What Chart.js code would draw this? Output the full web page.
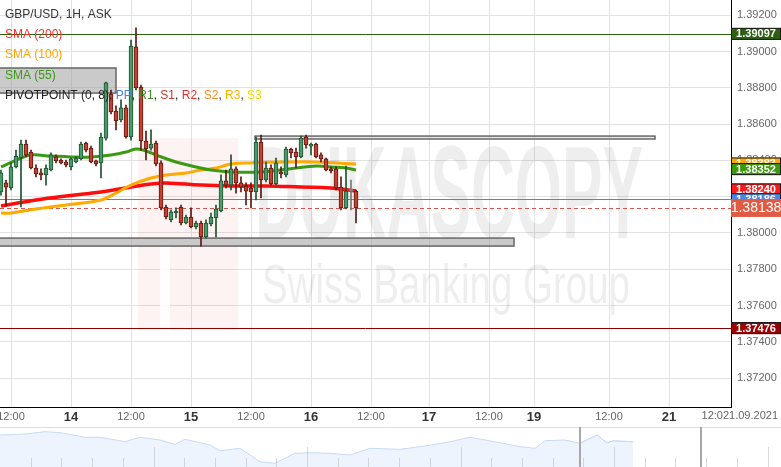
<!DOCTYPE html>
<html>
<head>
<meta charset="utf-8">
<script src="https://cdn.jsdelivr.net/npm/chart.js@4.4.0/dist/chart.umd.min.js"></script>
<style>
body{margin:0;background:#fff;}
#wrap{position:relative;width:781px;height:467px;overflow:hidden;background:#fff;}
#main{position:absolute;left:0;top:0;}
#nav{position:absolute;left:0;top:427px;}
</style>
</head>
<body>
<div id="wrap">
<canvas id="main" width="781" height="427"></canvas>
<canvas id="nav" width="781" height="40"></canvas>
</div>
<script>
// GBP/USD 1H candles, one per hour slot
var opens = [1.38226,1.38276,1.38248,1.38364,1.38413,1.38490,1.38446,1.38358,1.38331,1.38320,
  1.38347,1.38419,1.38402,1.38391,1.38364,1.38391,1.38408,1.38496,1.38468,1.38397,
  1.38386,1.38523,1.38766,1.38672,1.38623,1.38689,1.38529,1.39025,1.38804,1.38507,
  1.38468,1.38496,1.38386,1.38143,1.38072,1.38110,1.38143,1.38055,1.38088,1.38033,
  1.38055,1.37978,1.38050,1.38083,1.38121,1.38287,1.38264,1.38353,1.38276,1.38259,
  1.38248,1.38226,1.38501,1.38292,1.38358,1.38270,1.38336,1.38320,1.38463,1.38446,
  1.38419,1.38529,1.38479,1.38490,1.38430,1.38408,1.38353,1.38353,1.38253,1.38138,
  1.38231,1.38231];
var highs = [1.38347,1.38292,1.38386,1.38457,1.38512,1.38512,1.38457,1.38375,1.38353,1.38375,
  1.38441,1.38430,1.38408,1.38402,1.38413,1.38419,1.38501,1.38501,1.38479,1.38402,
  1.38551,1.38832,1.38788,1.38700,1.38733,1.38705,1.39063,1.39130,1.38815,1.38562,
  1.38568,1.38507,1.38397,1.38154,1.38127,1.38138,1.38154,1.38099,1.38138,1.38066,
  1.38066,1.38072,1.38110,1.38154,1.38320,1.38347,1.38430,1.38364,1.38309,1.38276,
  1.38276,1.38529,1.38540,1.38391,1.38375,1.38413,1.38364,1.38474,1.38468,1.38468,
  1.38534,1.38540,1.38496,1.38496,1.38441,1.38413,1.38364,1.38364,1.38309,1.38369,
  1.38292,1.38237];
var lows = [1.38209,1.38149,1.38237,1.38358,1.38143,1.38419,1.38353,1.38309,1.38292,1.38264,
  1.38342,1.38386,1.38380,1.38364,1.38347,1.38386,1.38402,1.38446,1.38386,1.38369,
  1.38303,1.38512,1.38656,1.38568,1.38612,1.38523,1.38512,1.38788,1.38457,1.38402,
  1.38457,1.38369,1.38127,1.38077,1.38061,1.38083,1.38044,1.38050,1.38028,1.38022,
  1.37928,1.37972,1.38039,1.37978,1.38116,1.38248,1.38237,1.38220,1.38226,1.38154,
  1.38138,1.38182,1.38193,1.38281,1.38264,1.38264,1.38303,1.38309,1.38413,1.38358,
  1.38413,1.38468,1.38430,1.38413,1.38391,1.38342,1.38331,1.38237,1.38127,1.38132,
  1.38127,1.38055];
var closes = [1.38331,1.38253,1.38364,1.38424,1.38490,1.38430,1.38358,1.38325,1.38320,1.38358,
  1.38430,1.38397,1.38386,1.38375,1.38408,1.38413,1.38490,1.38457,1.38391,1.38380,
  1.38529,1.38827,1.38667,1.38617,1.38689,1.38529,1.39030,1.38799,1.38507,1.38463,
  1.38490,1.38380,1.38138,1.38088,1.38116,1.38116,1.38055,1.38088,1.38033,1.38055,
  1.37978,1.38055,1.38088,1.38132,1.38287,1.38264,1.38353,1.38276,1.38253,1.38231,
  1.38226,1.38501,1.38292,1.38358,1.38270,1.38386,1.38325,1.38463,1.38441,1.38419,
  1.38523,1.38485,1.38490,1.38419,1.38408,1.38347,1.38342,1.38248,1.38138,1.38231,
  1.38231,1.38138];

// moving averages, read at a few slots
var sma55Slots = [0,4,6,10,14,18,22,25,27,29,31,35,39,42,46,52,56,59,63,66,69,71];
var sma55Vals  = [1.38364,1.38413,1.38430,1.38424,1.38419,1.38419,1.38430,1.38446,1.38463,1.38452,1.38430,1.38391,1.38364,1.38347,1.38336,1.38336,1.38347,1.38358,1.38369,1.38364,1.38358,1.38347];
var sma100Slots = [0,2,7,13,20,23,26,30,33,37,40,43,46,50,56,63,71];
var sma100Vals  = [1.38110,1.38110,1.38132,1.38154,1.38182,1.38220,1.38264,1.38303,1.38320,1.38331,1.38347,1.38358,1.38380,1.38386,1.38391,1.38391,1.38380];
var sma200Slots = [0,7,13,20,26,30,33,40,46,53,60,66,71];
var sma200Vals  = [1.38149,1.38182,1.38204,1.38226,1.38253,1.38270,1.38276,1.38264,1.38259,1.38259,1.38253,1.38248,1.38231];

// axes
var xTickSlots = [2,14,26,38,50,62,74,85.6,97.6,106.6,121.6,133.6];
var xTickLabels = ['12:00','14','12:00','15','12:00','16','12:00','17','12:00','19','12:00','21'];
var yTicks = [1.372,1.374,1.376,1.378,1.380,1.382,1.384,1.386,1.388,1.390,1.392];
var yMin = 1.370413, yMax = 1.392837;

// horizontal levels: R, S, PP, current ask
var levelValues = [1.39097,1.37476,1.38186,1.38138];
// drawn rectangles (slot from, slot to, price top, price bottom)
var rectFrom = [-1,50.8,-1];
var rectTo = [23,130.8,102.6];
var rectTop = [1.38909,1.38534,1.37972];
var rectBottom = [1.38771,1.38518,1.37928];

// price tags on the axis
var tagValues = [1.38383,1.38352,1.38240,1.38186,1.39097,1.37476,1.38138];

// navigator overview
var navX = [0,25,45,60,85,100,125,140,160,175,185,210,220,240,260,275,295,310,330,350,370,400,425,450,470,500,520,535,545,565,580,597,607,613,633];
var navH = [32,33,35.3,34.3,29.7,29.7,25.3,29.7,27,22.7,27.7,22,16.3,18.7,5.3,3.7,13.7,14.3,13.7,12,18.7,17.7,21,25.3,29.7,24.3,20.3,18.7,26.3,27,23.7,32,24,26,25.3];

var levelColors = ['#2c5f0e','#8b0000','#4a86e8','#d9534f'];
var tagBg = ['#ffa500','#3a9a0a','#ff1a1a','#4a86e8','#2c5f0e','#9b0000','#e05a44'];

Chart.defaults.font.family = '"Liberation Sans", Arial, sans-serif';

function kind(i){
  if (closes[i] > opens[i]) return 'up';
  if (closes[i] < opens[i]) return 'down';
  return 'flat';
}
var fillC = {up:'#4b9a6c', down:'#c8402f', flat:'#909090'};
var lineC = {up:'#1d5230', down:'#5e1810', flat:'#777777'};

var idx = opens.map(function(_, i){ return i; });

var overlay = {
  id: 'overlay',
  beforeDatasetsDraw: function(chart){
    var ctx = chart.ctx, a = chart.chartArea, x = chart.scales.x, y = chart.scales.y;
    ctx.save();
    ctx.beginPath(); ctx.rect(a.left, a.top, a.width, a.height); ctx.clip();

    // watermark
    ctx.fillStyle = 'rgba(235,90,90,0.07)';
    ctx.fillRect(138, 138, 100, 192);
    ctx.fillStyle = 'rgba(255,255,255,0.85)';
    ctx.fillRect(160, 240, 10, 90);
    ctx.fillRect(138, 238, 100, 8);
    ctx.fillStyle = 'rgba(0,0,0,0.065)';
    ctx.font = 'bold 132px "Liberation Sans"';
    var w = ctx.measureText('DUKASCOPY').width;
    ctx.save(); ctx.translate(255, 238); ctx.scale(388 / w, 1);
    ctx.fillText('DUKASCOPY', 0, 0); ctx.restore();
    ctx.font = '56px "Liberation Sans"';
    w = ctx.measureText('Swiss Banking Group').width;
    ctx.save(); ctx.translate(262, 303); ctx.scale(368 / w, 1);
    ctx.fillText('Swiss Banking Group', 0, 0); ctx.restore();

    // rectangles
    for (var r = 0; r < rectFrom.length; r++) {
      var x0 = x.getPixelForValue(rectFrom[r]), x1 = x.getPixelForValue(rectTo[r]);
      var y0 = y.getPixelForValue(rectTop[r]), y1 = y.getPixelForValue(rectBottom[r]);
      ctx.fillStyle = r == 1 ? 'rgba(200,200,200,0.35)' : 'rgba(150,150,150,0.5)';
      ctx.fillRect(x0, y0, x1 - x0, y1 - y0);
      ctx.strokeStyle = '#666'; ctx.lineWidth = 1.5;
      ctx.strokeRect(x0, y0, x1 - x0, y1 - y0);
    }

    // level lines
    for (var l = 0; l < levelValues.length; l++) {
      var ly = Math.round(y.getPixelForValue(levelValues[l])) + 0.5;
      ctx.strokeStyle = levelColors[l]; ctx.lineWidth = 1;
      ctx.setLineDash(l == 3 ? [4, 3] : []);
      ctx.beginPath(); ctx.moveTo(a.left, ly); ctx.lineTo(a.right, ly); ctx.stroke();
    }
    ctx.restore();
  },
  afterDraw: function(chart){
    var ctx = chart.ctx, a = chart.chartArea, y = chart.scales.y;
    ctx.save();
    // legend text
    ctx.textBaseline = 'middle';
    ctx.font = '12px "Liberation Sans"';
    var rows = [['GBP/USD, 1H, ASK','#333'],['SMA (200)','#ff2a2a'],['SMA (100)','#ffa500'],['SMA (55)','#3c9a1a']];
    var ry = [15, 35, 55, 76];
    rows.forEach(function(t, i){ ctx.fillStyle = t[1]; ctx.fillText(t[0], 5, ry[i]); });
    var parts = [['PIVOTPOINT (0, 8)','#222'],[', ','#222'],['PP','#4a86e8'],[', ','#222'],['R1','#3a8a2a'],[', ','#222'],
      ['S1','#c0392b'],[', ','#222'],['R2','#e53030'],[', ','#222'],['S2','#ff8c1a'],[', ','#222'],['R3','#ffb400'],[', ','#222'],['S3','#eedd00']];
    var px = 5;
    parts.forEach(function(p){ ctx.fillStyle = p[1]; ctx.fillText(p[0], px, 96); px += ctx.measureText(p[0]).width; });

    // price tags
    ctx.textAlign = 'center';
    for (var t = 0; t < tagValues.length; t++) {
      var cy = y.getPixelForValue(tagValues[t]);
      var big = t == tagValues.length - 1;
      var h = big ? 18 : 12;
      ctx.fillStyle = tagBg[t];
      ctx.fillRect(a.right, cy - h / 2, 50, h);
      if (!big) { ctx.strokeStyle = '#1a1a1a'; ctx.lineWidth = 1; ctx.strokeRect(a.right + 0.5, cy - h / 2 + 0.5, 49, h - 1); }
      ctx.fillStyle = '#fff';
      ctx.font = big ? '14px "Liberation Sans"' : 'bold 11px "Liberation Sans"';
      ctx.fillText(tagValues[t].toFixed(5), a.right + 25, cy + 0.5);
    }

    // last date label
    ctx.textAlign = 'right';
    ctx.font = '11px "Liberation Sans"';
    ctx.fillStyle = '#666';
    ctx.fillText('12:021.09.2021', 778, 416);
    ctx.restore();
  }
};

function isDay(i){ return xTickLabels[i] && xTickLabels[i].indexOf(':') < 0; }

var mainChart = new Chart(document.getElementById('main'), {
  type: 'bar',
  data: {
    datasets: [
      {
        type: 'line', data: sma200Slots.map(function(s, i){ return {x: s, y: sma200Vals[i]}; }),
        borderColor: '#ff0d0d', borderWidth: 3.5, pointRadius: 0, tension: 0.4, order: 8
      },
      {
        type: 'line', data: sma100Slots.map(function(s, i){ return {x: s, y: sma100Vals[i]}; }),
        borderColor: '#ffaa00', borderWidth: 3, pointRadius: 0, tension: 0.4, order: 7
      },
      {
        type: 'line', data: sma55Slots.map(function(s, i){ return {x: s, y: sma55Vals[i]}; }),
        borderColor: '#3a9a12', borderWidth: 3, pointRadius: 0, tension: 0.4, order: 6
      },
      {
        // wicks
        data: idx.map(function(i){ return {x: i, y: [lows[i], highs[i]]}; }),
        backgroundColor: idx.map(function(i){ return lineC[kind(i)]; }),
        barThickness: 1, grouped: false, order: 2
      },
      {
        // bodies
        data: idx.map(function(i){ return {x: i, y: [opens[i], closes[i]]}; }),
        backgroundColor: idx.map(function(i){ return fillC[kind(i)]; }),
        borderColor: idx.map(function(i){ return lineC[kind(i)]; }),
        borderWidth: 1, borderSkipped: false, minBarLength: 2,
        barThickness: 4, grouped: false, order: 1
      }
    ]
  },
  options: {
    responsive: false,
    animation: false,
    events: [],
    layout: {padding: 0},
    plugins: {legend: {display: false}, tooltip: {enabled: false}},
    scales: {
      x: {
        type: 'linear', min: -0.2, max: 146, offset: false,
        afterBuildTicks: function(s){ s.ticks = xTickSlots.map(function(v){ return {value: v}; }); },
        afterFit: function(s){ s.height = 20; s.paddingLeft = 0; s.paddingRight = 0; },
        ticks: {
          autoSkip: false, maxRotation: 0, padding: 3,
          callback: function(v, i){ return xTickLabels[i]; },
          font: function(c){ return isDay(c.index) ? {size: 13, weight: 'bold'} : {size: 11}; },
          color: function(c){ return isDay(c.index) ? '#333' : '#666'; }
        },
        grid: {color: '#e2e2e2', drawTicks: false, offset: false},
        border: {color: '#000', width: 1}
      },
      y: {
        position: 'right', min: yMin, max: yMax,
        afterBuildTicks: function(s){ s.ticks = yTicks.map(function(v){ return {value: v}; }); },
        afterFit: function(s){ s.width = 50; s.paddingTop = 0; s.paddingBottom = 0; },
        ticks: {
          padding: 6, color: '#666', font: {size: 11},
          callback: function(v){ return v.toFixed(5); }
        },
        grid: {color: '#e2e2e2', drawTicks: false},
        border: {color: '#000', width: 1}
      }
    }
  },
  plugins: [overlay]
});

// navigator strip
var navDecor = {
  id: 'navDecor',
  beforeDatasetsDraw: function(chart){
    var ctx = chart.ctx;
    ctx.save();
    ctx.strokeStyle = '#dddddd'; ctx.lineWidth = 1;
    ctx.beginPath(); ctx.moveTo(0, 0.5); ctx.lineTo(781, 0.5); ctx.stroke();
    ctx.restore();
  },
  afterDatasetsDraw: function(chart){
    var ctx = chart.ctx;
    ctx.save();
    ctx.strokeStyle = 'rgba(170,170,170,0.45)'; ctx.lineWidth = 1;
    for (var i = 1; i <= 25; i++) {
      var gx = Math.round(i * 30.7) + 0.5;
      ctx.beginPath(); ctx.moveTo(gx, i % 5 == 0 ? 20 : 31); ctx.lineTo(gx, 40); ctx.stroke();
    }
    ctx.strokeStyle = '#a8a8a8'; ctx.lineWidth = 2;
    [580, 701].forEach(function(hx){ ctx.beginPath(); ctx.moveTo(hx, 0); ctx.lineTo(hx, 40); ctx.stroke(); });
    ctx.restore();
  }
};

var navPts = navX.map(function(x, i){ return {x: x, y: navH[i]}; });
new Chart(document.getElementById('nav'), {
  type: 'line',
  data: {
    datasets: [
      {data: navPts, fill: 'origin', backgroundColor: '#eef4fd', borderColor: '#c8daf6', borderWidth: 1, pointRadius: 0, tension: 0},
      {data: navPts.filter(function(p){ return p.x >= 580; }), fill: 'origin', backgroundColor: '#dce7fa', borderColor: '#a9c3ee', borderWidth: 1, pointRadius: 0, tension: 0}
    ]
  },
  options: {
    responsive: false, animation: false, events: [],
    layout: {padding: 0},
    plugins: {legend: {display: false}, tooltip: {enabled: false}},
    scales: {
      x: {type: 'linear', min: 0, max: 781, display: false},
      y: {min: 0, max: 40, display: false}
    }
  },
  plugins: [navDecor]
});
</script>
</body>
</html>
